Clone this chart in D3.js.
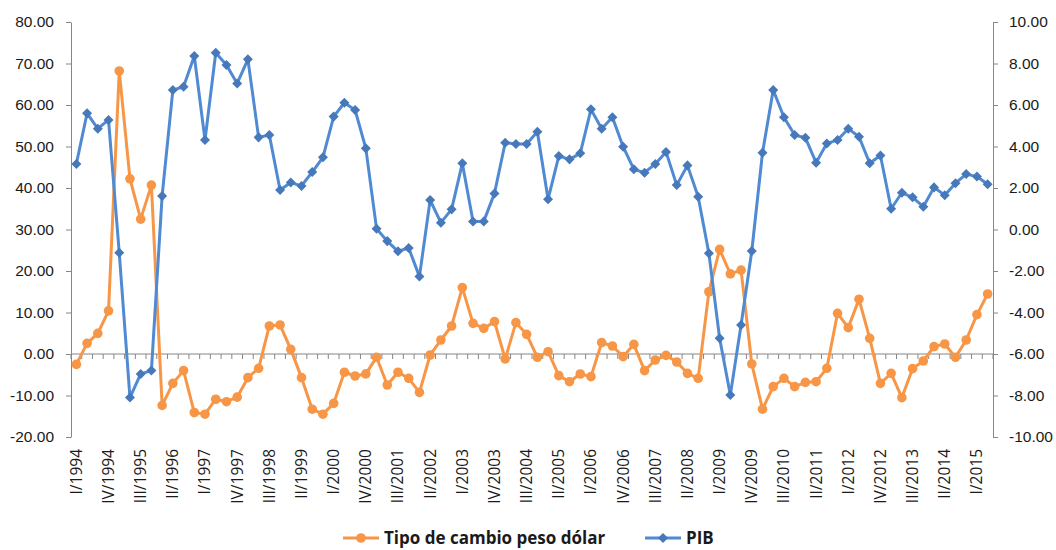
<!DOCTYPE html>
<html>
<head>
<meta charset="utf-8">
<script src="https://cdn.jsdelivr.net/npm/d3@7"></script>
<style>
  body { margin: 0; background: #fff; }
  svg { font-family: "Open Sans", "Noto Sans", sans-serif; }
  .axis path, .axis line { stroke: #868686; }
  .axis text { font-size: 15.5px; fill: #1a1a1a; }
</style>
</head>
<body>
<svg id="chart"></svg>
<script>
// quarters from I/1994 to II/2015
const years = d3.range(1994, 2016);
const quarterNames = ["I", "II", "III", "IV"];
const categories = [];
years.forEach(y => quarterNames.forEach(q => categories.push(q + "/" + y)));
categories.splice(categories.indexOf("III/2015")); // series ends at II/2015

// Tipo de cambio peso dólar (left axis)
const tipoCambio = [-2.5, 2.57, 4.98, 10.4, 68.2, 42.2, 32.5, 40.7, -12.4, -7.07,
  -4.0, -14.1, -14.5, -10.9, -11.5, -10.4, -5.7, -3.45, 6.75, 7.0,
  1.12, -5.7, -13.3, -14.5, -11.9, -4.4, -5.3, -4.8, -0.8, -7.47,
  -4.4, -5.86, -9.24, -0.24, 3.37, 6.75, 16.0, 7.39, 6.18, 7.79,
  -1.2, 7.55, 4.74, -0.8, 0.56, -5.22, -6.67, -4.82, -5.46, 2.73,
  1.93, -0.64, 2.33, -4.0, -1.45, -0.32, -1.93, -4.66, -5.86, 15.0,
  25.2, 19.3, 20.2, -2.4, -13.3, -7.87, -5.86, -7.87, -6.83, -6.67,
  -3.45, 9.8, 6.35, 13.2, 3.78, -7.07, -4.66, -10.5, -3.53, -1.69,
  1.77, 2.41, -0.8, 3.37, 9.48, 14.46];

// PIB (right axis)
const pib = [3.16, 5.60, 4.86, 5.28, -1.12, -8.10, -6.96, -6.80, 1.62, 6.72,
  6.88, 8.36, 4.31, 8.52, 7.93, 7.04, 8.20, 4.44, 4.55, 1.90,
  2.26, 2.10, 2.77, 3.48, 5.44, 6.11, 5.76, 3.91, 0.04, -0.56,
  -1.05, -0.89, -2.27, 1.42, 0.33, 0.97, 3.19, 0.39, 0.39, 1.74,
  4.18, 4.12, 4.12, 4.71, 1.46, 3.54, 3.38, 3.67, 5.79, 4.86,
  5.41, 3.99, 2.90, 2.74, 3.16, 3.74, 2.14, 3.09, 1.58, -1.15,
  -5.24, -7.98, -4.60, -1.04, 3.70, 6.72, 5.41, 4.55, 4.42, 3.22,
  4.15, 4.31, 4.86, 4.47, 3.19, 3.57, 1.00, 1.77, 1.55, 1.10,
  2.03, 1.65, 2.23, 2.67, 2.55, 2.18];

const leftTicks = d3.range(-20, 81, 10);
const rightTicks = d3.range(-10, 11, 2);
const seriesNames = ["Tipo de cambio peso dólar", "PIB"];

const width = 1056, height = 550;
const margin = { top: 22, right: 63, bottom: 113, left: 71 };
const orange = "#F79646", blueLine = "#4F8AD3", blueMarker = "#4779BA";

const svg = d3.select("#chart").attr("width", width).attr("height", height);

const x = d3.scaleBand().domain(categories)
  .range([margin.left, width - margin.right]);
const yL = d3.scaleLinear().domain([-20, 80]).range([height - margin.bottom, margin.top]);
const yR = d3.scaleLinear().domain([-10, 10]).range([height - margin.bottom, margin.top]);
const cx = d => x(d) + x.bandwidth() / 2;
const fmt = d => d.toFixed(2);

// left axis
svg.append("g")
  .attr("class", "axis")
  .attr("transform", `translate(${margin.left},0)`)
  .call(d3.axisLeft(yL).tickValues(leftTicks).tickFormat(fmt).tickSize(5).tickSizeOuter(0).tickPadding(12));

// right axis
svg.append("g")
  .attr("class", "axis")
  .attr("transform", `translate(${width - margin.right},0)`)
  .call(d3.axisRight(yR).tickValues(rightTicks).tickFormat(fmt).tickSize(5).tickSizeOuter(0).tickPadding(11));

// category axis crossing at zero
const xAxis = svg.append("g").attr("class", "axis");
xAxis.append("line")
  .attr("x1", margin.left).attr("x2", width - margin.right)
  .attr("y1", yL(0)).attr("y2", yL(0));
xAxis.selectAll(".xtick")
  .data(categories.concat([null]))
  .join("line")
  .attr("class", "xtick")
  .attr("x1", d => d === null ? width - margin.right : x(d))
  .attr("x2", d => d === null ? width - margin.right : x(d))
  .attr("y1", yL(0)).attr("y2", yL(0) + 5);

// category labels, every third quarter, at the bottom
svg.append("g")
  .attr("class", "axis")
  .selectAll("text")
  .data(categories.filter((d, i) => i % 3 === 0))
  .join("text")
  .attr("transform", d => `translate(${cx(d)},449) rotate(-90)`)
  .attr("dy", "0.35em")
  .attr("text-anchor", "end")
  .text(d => d);

// Tipo de cambio series
const tcData = categories.map((c, i) => ({ c, v: tipoCambio[i] }));
svg.append("path")
  .datum(tcData)
  .attr("fill", "none")
  .attr("stroke", orange)
  .attr("stroke-width", 3)
  .attr("stroke-linejoin", "round")
  .attr("d", d3.line().x(d => cx(d.c)).y(d => yL(d.v)));
svg.append("g")
  .selectAll("circle")
  .data(tcData)
  .join("circle")
  .attr("cx", d => cx(d.c))
  .attr("cy", d => yL(d.v))
  .attr("r", 4.8)
  .attr("fill", orange);

// PIB series
const pibData = categories.map((c, i) => ({ c, v: pib[i] }));
const diamond = d3.symbol().type(d3.symbolDiamond2).size(64);
svg.append("path")
  .datum(pibData)
  .attr("fill", "none")
  .attr("stroke", blueLine)
  .attr("stroke-width", 3)
  .attr("stroke-linejoin", "round")
  .attr("d", d3.line().x(d => cx(d.c)).y(d => yR(d.v)));
svg.append("g")
  .selectAll("path")
  .data(pibData)
  .join("path")
  .attr("transform", d => `translate(${cx(d.c)},${yR(d.v)})`)
  .attr("d", diamond)
  .attr("fill", blueMarker);

// legend
const legend = svg.append("g").attr("transform", "translate(0,538)");
const items = [
  { name: seriesNames[0], x: 343, color: orange, marker: "circle" },
  { name: seriesNames[1], x: 645, color: blueLine, marker: "diamond" }
];
items.forEach(it => {
  const g = legend.append("g").attr("transform", `translate(${it.x},0)`);
  g.append("line").attr("x1", 0).attr("x2", 36).attr("stroke", it.color).attr("stroke-width", 3);
  if (it.marker === "circle") {
    g.append("circle").attr("cx", 18).attr("r", 4.8).attr("fill", orange);
  } else {
    g.append("path").attr("transform", "translate(18,0)").attr("d", diamond).attr("fill", blueMarker);
  }
  g.append("text")
    .attr("x", 41)
    .attr("dy", "0.36em")
    .style("font-size", "17px")
    .style("font-weight", "bold")
    .attr("fill", "#1a1a1a")
    .text(it.name);
});
</script>
</body>
</html>
